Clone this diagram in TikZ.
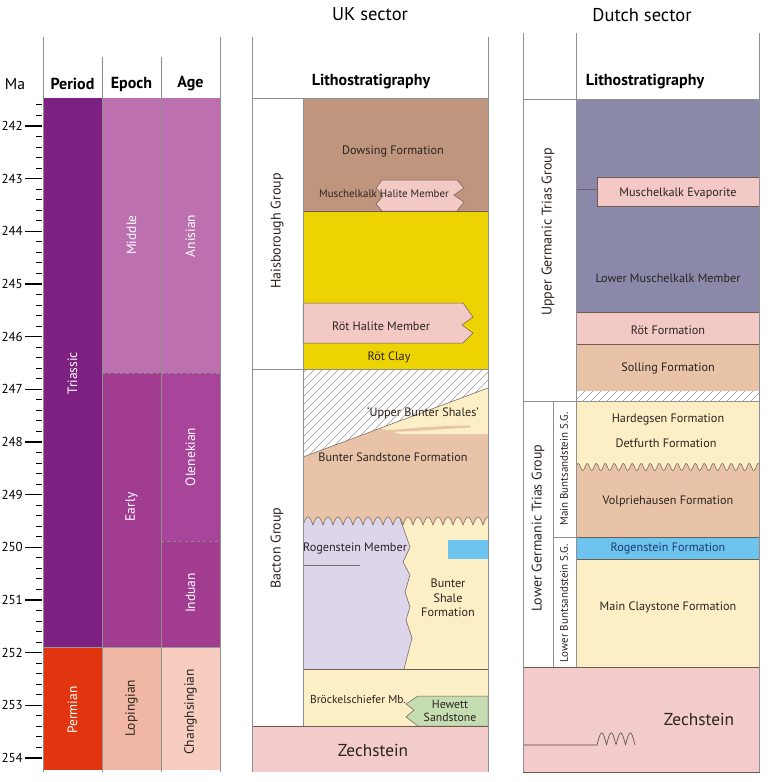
\documentclass[tikz,border=0pt]{standalone}
\usepackage{fontspec}
\setmainfont{PT Sans}
\definecolor{ink}{HTML}{2B2320}
\definecolor{rule}{HTML}{8F8F8F}
\definecolor{bndc}{HTML}{6E5C52}
\definecolor{triassic}{HTML}{7C2182}
\definecolor{permian}{HTML}{E0350F}
\definecolor{middle}{HTML}{BC70B0}
\definecolor{early}{HTML}{A13C91}
\definecolor{olenek}{HTML}{A9449B}
\definecolor{loping}{HTML}{F0B8A4}
\definecolor{changh}{HTML}{F6CDBF}
\definecolor{dowsing}{HTML}{C0957D}
\definecolor{rotclay}{HTML}{EDD400}
\definecolor{halite}{HTML}{F3C9C6}
\definecolor{sand}{HTML}{E8C3A8}
\definecolor{shale}{HTML}{FCEFC6}
\definecolor{rogen}{HTML}{DDD5EA}
\definecolor{oolite}{HTML}{6CC4EF}
\definecolor{hewett}{HTML}{C6DDB2}
\definecolor{muschel}{HTML}{8A89A9}
\definecolor{zech}{HTML}{F2CBCA}
\definecolor{hatchc}{HTML}{9A9A9A}
\definecolor{rogtext}{HTML}{1D3B6B}
\begin{document}
\begin{tikzpicture}[x=1pt,y=-1pt,
    lab/.style={inner sep=0pt,text=ink,font=\fontsize{12.2}{14.5}\selectfont},
    vlab/.style={lab,rotate=90},
    tlab/.style={vlab,font=\fontsize{13.5}{15}\selectfont},
    glab/.style={vlab,font=\fontsize{14}{16}\selectfont},
    head/.style={inner sep=0pt,text=black,font=\fontsize{16}{18}\selectfont\bfseries},
    big/.style={lab,font=\fontsize{17.3}{20}\selectfont},
    pnl/.style={draw=rule,line width=0.8pt},
    bnd/.style={draw=bndc,line width=0.5pt},
    hatchline/.style={draw=hatchc,line width=0.6pt}]
\useasboundingbox (0,0) rectangle (768,782);

% time scale
\node[inner sep=0pt,font=\fontsize{15.7}{17}\selectfont] (ma) at (15,84) {Ma};
\foreach \i in {0,...,62} {
    \pgfmathsetmacro\yy{104.93+\i*10.533}
    \draw[line width=0.9pt] (36,\yy) -- (42,\yy);
}
\foreach \a in {242,...,254} {
    \pgfmathsetmacro\yy{126+(\a-242)*52.67}
    \draw[line width=1.4pt] (25,\yy) -- (42,\yy);
    \node[inner sep=0pt,anchor=east,font=\fontsize{13}{14}\selectfont] (ma\a) at (23,\yy) {\a};
}

% chronostratigraphy
\fill[triassic] (43,98) rectangle (102,647);
\fill[permian] (43,647) rectangle (102,770);
\fill[middle] (102,98) rectangle (161,373);
\fill[early] (102,373) rectangle (161,647);
\fill[loping] (102,647) rectangle (161,770);
\fill[middle] (161,98) rectangle (220,373);
\fill[olenek] (161,373) rectangle (220,541);
\fill[early] (161,541) rectangle (220,647);
\fill[changh] (161,647) rectangle (220,770);
\draw[black!45,line width=0.6pt,dashed] (102,373) -- (220,373);
\draw[black!45,line width=0.6pt,dashed] (161,541) -- (220,541);
\draw[black!40,line width=0.5pt] (43,647) -- (220,647);
\draw[pnl] (43,37) -- (43,772);
\draw[pnl] (220,37) -- (220,772);
\draw[pnl] (102,57) -- (102,772);
\draw[pnl] (161,57) -- (161,772);

\node[head] (period) at (72.5,84) {Period};
\node[head] (epoch) at (131.5,84) {Epoch};
\node[head] (age) at (190.5,84) {Age};
\node[tlab,text=white] (triassic) at (72.5,373) {Triassic};
\node[tlab,text=white] (permian) at (72.5,710) {Permian};
\node[tlab,text=white] (middle) at (131.5,235) {Middle};
\node[tlab,text=white] (early) at (131.5,507) {Early};
\node[tlab] (lopingian) at (131.5,708) {Lopingian};
\node[tlab,text=white] (anisian) at (190.5,236) {Anisian};
\node[tlab,text=white] (olenekian) at (190.5,457) {Olenekian};
\node[tlab,text=white] (induan) at (190.5,593) {Induan};
\node[tlab] (changhsingian) at (190.5,712) {Changhsingian};

% UK sector
\node[inner sep=0pt,font=\fontsize{18.5}{20}\selectfont] (uk) at (370,14) {UK sector};
\fill[dowsing] (303,98) rectangle (488,211);
\fill[rotclay] (303,211) rectangle (488,369);
\filldraw[fill=halite,bnd] (382,180) -- (457,180) -- (464,188) -- (454,195) -- (464,202) -- (457,211)
    -- (382,211) -- (376,204) -- (383,196) -- (376,188) -- cycle;
\filldraw[fill=halite,bnd] (303,303) -- (463,303) -- (473,317) -- (462,325) -- (473,333) -- (463,343)
    -- (303,343) -- cycle;
\draw[bnd] (303,211) -- (488,211);

\fill[sand] (303,457) -- (488,388) -- (488,530) -- (303,530) -- cycle;
\fill[shale] (380,428) -- (488,388) -- (488,434) -- (400,434) -- cycle;
\fill[sand] (380,431) .. controls (420,427) and (450,425.5) .. (470,425.5)
    -- (470,427.5) .. controls (440,429) and (410,432) .. (380,432) -- cycle;
\begin{scope}
    \clip (303,369) -- (488,369) -- (488,388) -- (303,457) -- cycle;
    \fill[white] (303,369) rectangle (488,457);
    \foreach \k in {200,208,...,496}
        \draw[hatchline] (\k,460) -- (\k+100,360);
\end{scope}
\draw[bnd] (303,457) -- (488,388);

\fill[shale] (303,669) -- (303,525)
    -- plot[domain=303:488,samples=260] (\x,{525-8*abs(sin(18*(\x-303)))}) -- (488,669) -- cycle;
\fill[rogen] (303,669) -- (303,525)
    -- plot[domain=303:400,samples=140] (\x,{525-8*abs(sin(18*(\x-303)))})
    -- (410,547) -- (403,562) -- (410,575) -- (405,592) -- (410,607) -- (406,620) -- (412,638)
    -- (404,669) -- cycle;
\draw[bnd] plot[domain=303:488,samples=260] (\x,{525-8*abs(sin(18*(\x-303)))});
\draw[bnd] (400,518.5) -- (410,547) -- (403,562) -- (410,575) -- (405,592) -- (410,607) -- (406,620)
    -- (412,638) -- (404,669);
\fill[oolite] (448,540) rectangle (488,559);
\draw[draw=black!55,line width=0.8pt] (303,565) -- (360,565);

\fill[shale] (303,669) rectangle (488,726);
\draw[bnd] (303,669) -- (488,669);
\filldraw[fill=hewett,bnd] (418,696) -- (488,696) -- (488,726) -- (418,726) -- (406,717) -- (414,710)
    -- (406,704) -- cycle;
\fill[zech] (252,726) rectangle (488,772);
\draw[bnd] (252,726) -- (488,726);

\draw[pnl] (252,37) -- (252,772);
\draw[pnl] (488,37) -- (488,772);
\draw[pnl] (252,98) -- (488,98);
\draw[pnl] (303,98) -- (303,726);
\draw[pnl] (252,369) -- (488,369);

\node[head] (ukhead) at (371,82) {Lithostratigraphy};
\node[glab] (haisborough) at (277,231) {Haisborough Group};
\node[glab] (bacton) at (277,548) {Bacton Group};
\node[lab] (dowsing) at (393,151) {Dowsing Formation};
\node[lab,font=\fontsize{10.9}{13}\selectfont] (mhalite) at (384,194) {Muschelkalk Halite Member};
\node[lab] (rhalite) at (381,326) {Röt Halite Member};
\node[lab] (rclay) at (389,357) {Röt Clay};
\node[lab] (ubshales) at (423,413) {‘Upper Bunter Shales’};
\node[lab] (bsandst) at (393,457) {Bunter Sandstone Formation};
\node[lab] (rogmember) at (355,548) {Rogenstein Member};
\node[lab,align=center] (bshale) at (448,598) {Bunter\\Shale\\Formation};
\node[lab,font=\fontsize{11.5}{13.5}\selectfont] (broeckel) at (358,699) {Bröckelschiefer Mb.};
\node[lab,align=center,font=\fontsize{11.8}{13}\selectfont] (hewett) at (450,711) {Hewett\\Sandstone};
\node[big] (ukzech) at (373,750) {Zechstein};

% Dutch sector
\node[inner sep=0pt,font=\fontsize{18.5}{20}\selectfont] (nl) at (642,15) {Dutch sector};
\fill[muschel] (576,99) rectangle (759,312);
\draw[draw=black!60,line width=0.6pt] (576,189) -- (597,189);
\filldraw[fill=halite,bnd] (597,177) rectangle (759,206);
\filldraw[fill=halite,bnd] (576,312) rectangle (759,344);
\filldraw[fill=sand,bnd] (576,344) rectangle (759,391);
\begin{scope}
    \clip (576,391) rectangle (759,401);
    \fill[white] (576,391) rectangle (759,401);
    \foreach \k in {566,574,...,760}
        \draw[hatchline] (\k,402) -- (\k+12,390);
\end{scope}
\fill[shale] (576,401) rectangle (759,470);
\fill[sand] (576,537) -- (576,467)
    -- plot[domain=576:759,samples=300] (\x,{467-3.5*sin(40*(\x-576))}) -- (759,537) -- cycle;
\draw[bnd] plot[domain=576:759,samples=300] (\x,{467-3.5*sin(40*(\x-576))});
\filldraw[fill=oolite,bnd] (576,537) rectangle (759,559);
\filldraw[fill=shale,bnd] (576,559) rectangle (759,667);
\filldraw[fill=zech,bnd] (523,667) rectangle (759,772);
\draw[draw=black!70,line width=0.6pt] (523,745) -- (597,745)
    -- plot[domain=597:635,samples=120] (\x,{745-12*abs(sin(180*(\x-597)/9.5))});

\draw[pnl] (523,33) -- (523,772);
\draw[pnl] (759,33) -- (759,772);
\draw[pnl] (576,33) -- (576,667);
\draw[pnl] (523,99) -- (759,99);
\draw[pnl] (523,401) -- (759,401);
\draw[pnl] (553,401) -- (553,667);
\draw[pnl] (553,537) -- (576,537);

\node[head] (nlhead) at (645,82) {Lithostratigraphy};
\node[glab] (uppergerm) at (548,232) {Upper Germanic Trias Group};
\node[glab] (lowergerm) at (538,528) {Lower Germanic Trias Group};
\node[vlab,font=\fontsize{11}{12}\selectfont] (mainbunt) at (564,469) {Main Buntsandstein S.G.};
\node[vlab,font=\fontsize{11}{12}\selectfont] (lowerbunt) at (564,603) {Lower Buntsandstein S.G.};
\node[lab] (mevap) at (678,193) {Muschelkalk Evaporite};
\node[lab] (lmuschel) at (668,278) {Lower Muschelkalk Member};
\node[lab] (rotfm) at (668,330) {Röt Formation};
\node[lab] (solling) at (668,368) {Solling Formation};
\node[lab] (hardegsen) at (668,419) {Hardegsen Formation};
\node[lab] (detfurth) at (666,443) {Detfurth Formation};
\node[lab] (volprieh) at (668,501) {Volpriehausen Formation};
\node[lab,text=rogtext] (rogfm) at (668,548) {Rogenstein Formation};
\node[lab] (mainclay) at (668,607) {Main Claystone Formation};
\node[big] (nlzech) at (699,719) {Zechstein};
\end{tikzpicture}
\end{document}
